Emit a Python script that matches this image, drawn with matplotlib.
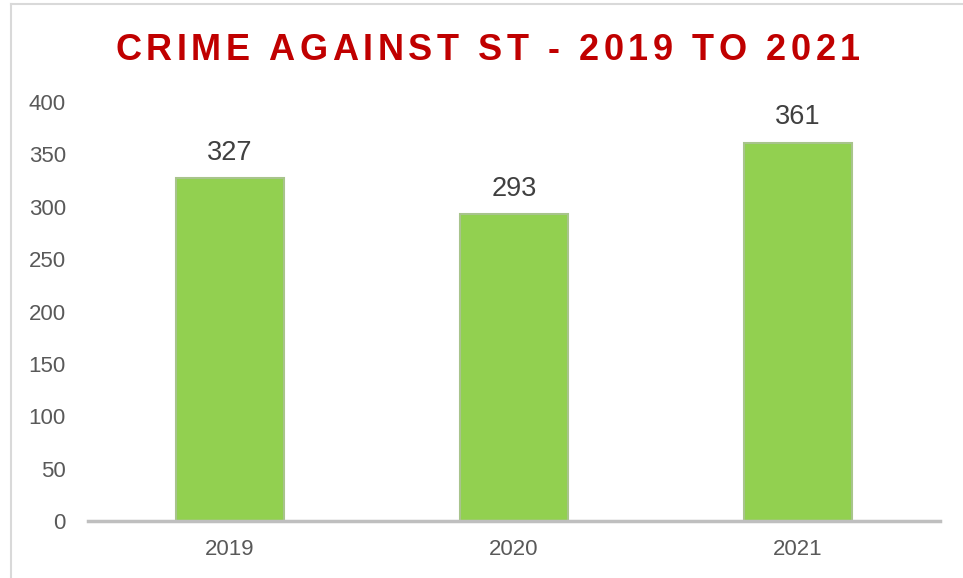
import matplotlib
matplotlib.use('Agg')
from matplotlib import pyplot as plt
from matplotlib.lines import Line2D

years = ['2019', '2020', '2021']
cases = [327, 293, 361]
y_ticks = [0, 50, 100, 150, 200, 250, 300, 350, 400]
title = 'CRIME AGAINST ST - 2019 TO 2021'

plt.rcParams['font.family'] = ['Liberation Sans', 'DejaVu Sans']

fig = plt.figure(figsize=(9.63, 5.78), dpi=100)
ax = fig.add_axes([0.0914, 0.0986, 0.8848, 0.7249])

x = range(len(years))
bars = ax.bar(x, cases, width=0.38, color='#92D050', edgecolor='#A8C48C', linewidth=1.5)
for xi, v in zip(x, cases):
    ax.annotate(str(v), (xi, v), xytext=(0, 9), textcoords='offset points',
                ha='center', va='bottom', fontsize=19.5, color='#404040')

ax.set_xlim(-0.5, 2.5)
ax.set_ylim(0, 400)
ax.set_xticks(list(x))
ax.set_xticklabels(years)
ax.set_yticks(y_ticks)
ax.tick_params(axis='both', length=0, labelsize=16, labelcolor='#595959')
ax.tick_params(axis='y', pad=16)
ax.tick_params(axis='x', pad=13)
for side in ['top', 'right', 'left']:
    ax.spines[side].set_visible(False)
ax.spines['bottom'].set_color('#BFBFBF')
ax.spines['bottom'].set_linewidth(2.5)

# border of the chart area (top and left visible in the crop)
fig.add_artist(Line2D([10.5 / 963, 10.5 / 963], [0, 1 - 4 / 578], color='#D9D9D9', lw=1.5))
fig.add_artist(Line2D([10.5 / 963, 1], [1 - 4 / 578, 1 - 4 / 578], color='#D9D9D9', lw=1.5))

# letter-spaced title
renderer = fig.canvas.get_renderer()
chars = []
for ch in title:
    t = fig.text(0, 1 - 60 / 578, ch, fontsize=26, fontweight='bold', color='#C00000',
                 ha='left', va='baseline')
    chars.append(t)
widths = []
for t in chars:
    if t.get_text() == ' ':
        widths.append(t.get_fontsize() * 0.278 * 100 / 72)
    else:
        widths.append(t.get_window_extent(renderer).width)
left_px, right_px = 115, 860
gap = (right_px - left_px - sum(widths)) / (len(chars) - 1)
pos = left_px
for t, w in zip(chars, widths):
    t.set_x(pos / 963)
    pos += w + gap

fig.savefig('out.png', dpi=100)
